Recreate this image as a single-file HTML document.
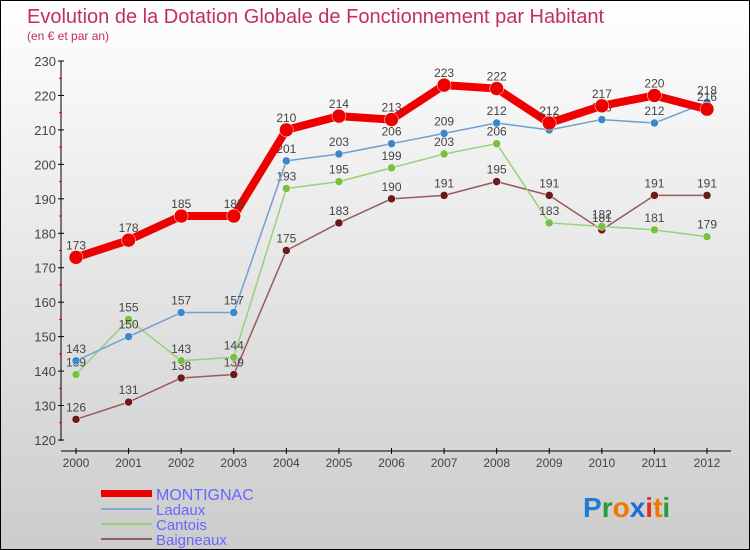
<!DOCTYPE html>
<html><head><meta charset="utf-8"><style>
body{margin:0}
#wrap{width:750px;height:550px;position:relative;overflow:hidden;box-sizing:border-box;border:1px solid #000;background:linear-gradient(#fff,#ccc);font-family:"Liberation Sans",sans-serif}
svg text{font-family:"Liberation Sans",sans-serif}
</style></head><body>
<div id="wrap">
<svg id="svg" width="750" height="550">
<text x="26" y="22" font-size="20" fill="#c0305a">Evolution de la Dotation Globale de Fonctionnement par Habitant</text>
<text x="26" y="39" font-size="12" fill="#c0305a">(en € et par an)</text>
<g id="axes"></g><g id="series"></g>
<g>
<rect x="100" y="489" width="51" height="7" fill="#e00"/>
<text x="155" y="499" font-size="16" fill="#66f">MONTIGNAC</text>
<rect x="100" y="507" width="51" height="2" fill="#7fa8cc"/>
<text x="155" y="514" font-size="15" fill="#66f">Ladaux</text>
<rect x="100" y="522" width="51" height="2" fill="#99d07a"/>
<text x="155" y="529" font-size="15" fill="#66f">Cantois</text>
<rect x="100" y="537" width="51" height="2" fill="#906060"/>
<text x="155" y="544" font-size="15" fill="#66f">Baigneaux</text>
</g>
<text x="582" y="516" font-size="28" font-weight="bold"><tspan fill="#1a7fd4">P</tspan><tspan fill="#2a9a3a">r</tspan><tspan fill="#f07800">o</tspan><tspan fill="#1a6fd0">x</tspan><tspan fill="#e03020">i</tspan><tspan fill="#f07800">t</tspan><tspan fill="#2a9a3a">i</tspan></text>
</svg></div>
<script>
const years=["2000","2001","2002","2003","2004","2005","2006","2007","2008","2009","2010","2011","2012"];
const montignac=[173,178,185,185,210,214,213,223,222,212,217,220,216];
const ladaux=[143,150,157,157,201,203,206,209,212,210,213,212,218];
const cantois=[139,155,143,144,193,195,199,203,206,183,182,181,179];
const baigneaux=[126,131,138,139,175,183,190,191,195,191,181,191,191];
const yTicks=[120,130,140,150,160,170,180,190,200,210,220,230];
const NS="http://www.w3.org/2000/svg";
function X(i){return 75+i*(706-75)/(years.length-1);}
function Y(v){return 439-(v-120)*(439-60)/110;}
function mk(tag,attrs,parent){const e=document.createElementNS(NS,tag);for(const k in attrs)e.setAttribute(k,attrs[k]);parent.appendChild(e);return e;}
const axes=document.getElementById('axes'),ser=document.getElementById('series');
let l=mk('line',{x1:60,y1:60,x2:60,y2:440,stroke:'#000'},axes);


yTicks.forEach((v,k)=>{
 const y=Y(v);
 mk('line',{x1:57,y1:y,x2:63,y2:y,stroke:'#000'},axes);
 if(k<yTicks.length-1){mk('line',{x1:58,y1:Y(v+5),x2:61,y2:Y(v+5),stroke:'#e00'},axes);}
 const t=mk('text',{x:55,y:y+5,'font-size':13,fill:'#444','text-anchor':'end'},axes);t.textContent=v;
 
 
});
l=mk('line',{x1:60,y1:450,x2:730,y2:450,stroke:'#000'},axes);


years.forEach((yr,i)=>{
 mk('line',{x1:X(i),y1:447,x2:X(i),y2:453,stroke:'#000'},axes);
 const t=mk('text',{x:X(i),y:466,'font-size':12,fill:'#444','text-anchor':'middle'},axes);t.textContent=yr;
 
 
});
function draw(name,data,color,lw,r,dot){
 const g=mk('g',{},ser);
 
 
 const pts=data.map((v,i)=>X(i)+','+Y(v)).join(' ');
 mk('polyline',{points:pts,fill:'none',stroke:color,'stroke-width':lw,'stroke-linejoin':'round'},g);
 data.forEach((v,i)=>{
  const c=mk('circle',{cx:X(i),cy:Y(v),r:r,fill:dot,stroke:'#fff','stroke-width':0.5},g);
  
  
  const t=mk('text',{x:X(i),y:Y(v)-8,'font-size':12,fill:'#444','text-anchor':'middle'},g);t.textContent=v;
  
  
 });
}
draw('baigneaux',baigneaux,'#9a5a5a',1.5,4,'#6a1a1a');
draw('cantois',cantois,'#99d07a',1.5,4,'#7ac040');
draw('ladaux',ladaux,'#6fa0d0',1.5,4,'#3a88cc');
draw('montignac',montignac,'#e00',8,7,'#e00');
</script>
</body></html>
